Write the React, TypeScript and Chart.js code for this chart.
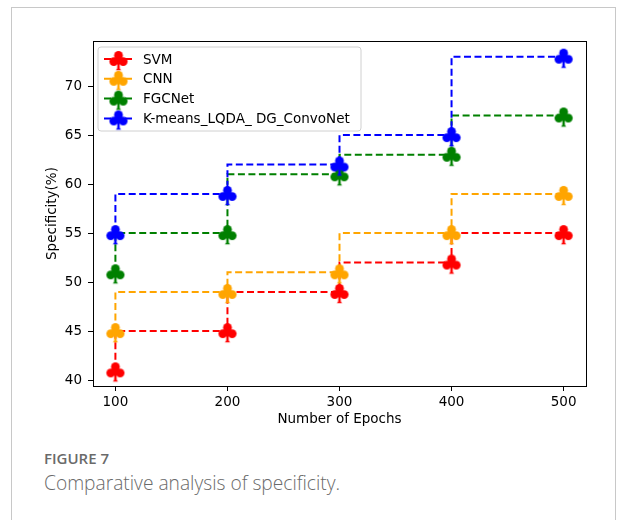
import React, { useEffect, useRef } from "react";
import { Chart, registerables } from "chart.js";

Chart.register(...registerables);

const EPOCHS = [100, 200, 300, 400, 500];
const SVM = [41, 45, 49, 52, 55];
const CNN = [45, 49, 51, 55, 59];
const FGCNET = [51, 55, 61, 63, 67];
const KMEANS = [55, 59, 62, 65, 73];
const SERIES_NAMES = ["SVM", "CNN", "FGCNet", "K-means_LQDA_ DG_ConvoNet"];
const SERIES_COLORS = ["#ff0000", "#ffa500", "#008000", "#0000ff"];
const X_TICKS = [100, 200, 300, 400, 500];
const Y_TICKS = [40, 45, 50, 55, 60, 65, 70];

const FONT = "DejaVu Sans";
const FS = 13.5;
const DASH = [7, 3.5];

function makeClub(color: string): HTMLCanvasElement {
  const c = document.createElement("canvas");
  c.width = 24;
  c.height = 26;
  const ctx = c.getContext("2d")!;
  ctx.fillStyle = color;
  const cx = 12, cy = 13;
  const r = 4.4;
  const circle = (x: number, y: number, rr: number) => {
    ctx.beginPath();
    ctx.arc(x, y, rr, 0, Math.PI * 2);
    ctx.fill();
  };
  circle(cx, cy - 3.6, r);
  circle(cx - 4.7, cy + 2.6, r);
  circle(cx + 4.7, cy + 2.6, r);
  circle(cx, cy + 1.5, 3.2);
  ctx.beginPath();
  ctx.moveTo(cx - 1, cy + 3);
  ctx.lineTo(cx + 1, cy + 3);
  ctx.lineTo(cx + 1.3, cy + 9.5);
  ctx.lineTo(cx + 2.6, cy + 11.2);
  ctx.lineTo(cx - 2.6, cy + 11.2);
  ctx.lineTo(cx - 1.3, cy + 9.5);
  ctx.closePath();
  ctx.fill();
  return c;
}

export default function App() {
  const ref = useRef<HTMLCanvasElement | null>(null);

  useEffect(() => {
    if (!ref.current) return;
    const clubs = SERIES_COLORS.map(makeClub);
    const seriesData = [SVM, CNN, FGCNET, KMEANS];

    const framePlugin = {
      id: "frameAndLegend",
      afterDraw(chart: any) {
        const { ctx, chartArea: ca } = chart;
        ctx.save();
        ctx.strokeStyle = "#000";
        ctx.lineWidth = 1;
        ctx.setLineDash([]);
        ctx.strokeRect(Math.round(ca.left) + 0.5, Math.round(ca.top) + 0.5, Math.round(ca.right - ca.left), Math.round(ca.bottom - ca.top));

        // legend
        const lx = ca.left + 5;
        const ly = ca.top + 6;
        const lw = 263;
        const lh = 84;
        const rr = 3;
        ctx.beginPath();
        ctx.moveTo(lx + rr, ly);
        ctx.lineTo(lx + lw - rr, ly);
        ctx.quadraticCurveTo(lx + lw, ly, lx + lw, ly + rr);
        ctx.lineTo(lx + lw, ly + lh - rr);
        ctx.quadraticCurveTo(lx + lw, ly + lh, lx + lw - rr, ly + lh);
        ctx.lineTo(lx + rr, ly + lh);
        ctx.quadraticCurveTo(lx, ly + lh, lx, ly + lh - rr);
        ctx.lineTo(lx, ly + rr);
        ctx.quadraticCurveTo(lx, ly, lx + rr, ly);
        ctx.closePath();
        ctx.fillStyle = "rgba(255,255,255,0.8)";
        ctx.fill();
        ctx.strokeStyle = "#d0d0d0";
        ctx.stroke();

        for (let i = 0; i < SERIES_NAMES.length; i++) {
          const y = ly + 12 + i * 19.8;
          ctx.strokeStyle = SERIES_COLORS[i];
          ctx.lineWidth = 2;
          ctx.setLineDash(DASH);
          ctx.beginPath();
          ctx.moveTo(lx + 6, y);
          ctx.lineTo(lx + 35, y);
          ctx.stroke();
          ctx.setLineDash([]);
          const cl = clubs[i];
          ctx.drawImage(cl, lx + 20.5 - cl.width / 2, y - cl.height / 2);
          ctx.fillStyle = "#000";
          ctx.font = `${FS}px "${FONT}"`;
          ctx.textBaseline = "middle";
          ctx.textAlign = "left";
          ctx.fillText(SERIES_NAMES[i], lx + 45, y + 1);
        }
        ctx.restore();
      },
    };

    const font = { family: FONT, size: FS };
    const chart = new Chart(ref.current, {
      type: "line",
      data: {
        datasets: seriesData.map((arr, i) => ({
          label: SERIES_NAMES[i],
          data: EPOCHS.map((x, j) => ({ x, y: arr[j] })),
          borderColor: SERIES_COLORS[i],
          backgroundColor: SERIES_COLORS[i],
          borderWidth: 2,
          borderDash: DASH,
          stepped: "after" as any,
          fill: false,
          pointStyle: clubs[i] as any,
          pointRadius: 8,
          pointHoverRadius: 8,
          order: SERIES_NAMES.length - i,
        })),
      },
      options: {
        animation: false,
        responsive: false,
        devicePixelRatio: 1,
        events: [],
        layout: { padding: { left: 0, right: 39, top: 41, bottom: 0 } },
        plugins: { legend: { display: false }, tooltip: { enabled: false } },
        scales: {
          x: {
            type: "linear",
            min: 80,
            max: 520,
            afterBuildTicks: (s: any) => {
              s.ticks = X_TICKS.map((v) => ({ value: v }));
            },
            afterFit: (s: any) => {
              s.height = 54;
            },
            grid: { display: true, drawOnChartArea: false, drawTicks: true, tickLength: 5, color: "#000" },
            border: { display: true, color: "#000", width: 1 },
            ticks: { color: "#000", font, padding: 3, maxRotation: 0, autoSkip: false },
            title: { display: true, text: "Number of Epochs", color: "#000", font, padding: { top: 0, bottom: 12 } },
          },
          y: {
            type: "linear",
            min: 39.4,
            max: 74.6,
            afterBuildTicks: (s: any) => {
              s.ticks = Y_TICKS.map((v) => ({ value: v }));
            },
            afterFit: (s: any) => {
              s.width = 93;
            },
            grid: { display: true, drawOnChartArea: false, drawTicks: true, tickLength: 5, color: "#000" },
            border: { display: true, color: "#000", width: 1 },
            ticks: { color: "#000", font, padding: 6, autoSkip: false },
            title: { display: true, text: "Specificity(%)", color: "#000", font, padding: { top: 44, bottom: 0 } },
          },
        },
      },
      plugins: [framePlugin],
    });
    return () => chart.destroy();
  }, []);

  return (
    <div style={{ position: "absolute", left: 0, top: 0, width: 625, height: 520, overflow: "hidden", background: "#fff" }}>
      <div
        style={{
          position: "absolute",
          left: 11,
          top: 7,
          width: 603,
          height: 540,
          border: "1px solid #c8c8c8",
          background: "#fff",
        }}
      />
      <canvas ref={ref} width={625} height={440} style={{ position: "absolute", left: 0, top: 0, width: 625, height: 440 }} />
      <div
        style={{
          position: "absolute",
          left: 44,
          top: 449,
          fontFamily: '"Open Sans", sans-serif',
          fontWeight: 600,
          fontSize: 15,
          color: "#6a6a6a",
          lineHeight: "18px",
          whiteSpace: "nowrap",
        }}
      >
        FIGURE 7
      </div>
      <div
        style={{
          position: "absolute",
          left: 44,
          top: 471,
          fontFamily: '"Open Sans", sans-serif',
          fontWeight: 300,
          fontSize: 19.2,
          color: "#6a6a6a",
          lineHeight: "24px",
          whiteSpace: "nowrap",
        }}
      >
        Comparative analysis of specificity.
      </div>
    </div>
  );
}
